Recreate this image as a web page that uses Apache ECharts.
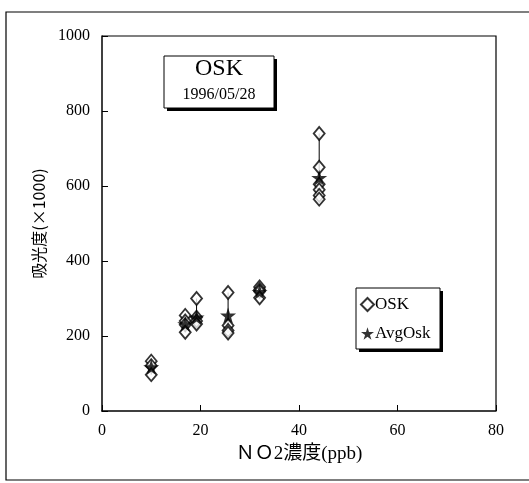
<!DOCTYPE html>
<html>
<head>
<meta charset="utf-8">
<script src="https://cdn.jsdelivr.net/npm/echarts@6/dist/echarts.min.js"></script>
<style>
  html, body { margin: 0; padding: 0; background: #fff; }
  #chart { width: 529px; height: 483px; }
</style>
</head>
<body>
<div id="chart"></div>
<script>
  // NO2 concentration (ppb) of each measurement group
  const no2Levels = [10, 16.9, 19.2, 25.6, 32, 44.1];
  // absorbance (x1000) readings, one list per group
  const oskReadings = [
    [133, 121, 97],
    [255, 240, 230, 210],
    [300, 250, 240, 232],
    [316, 228, 215, 208],
    [331, 324, 319, 302],
    [740, 650, 605, 590, 575, 565]
  ];
  const avgOsk = [117, 232, 250, 255, 318, 622];
  const xTicks = [0, 20, 40, 60, 80];
  const yTicks = [0, 200, 400, 600, 800, 1000];

  const serif = '"Liberation Serif", "DejaVu Serif", serif';
  const starPath = 'path://M50,0 L61,35 L98,35 L68,57 L79,91 L50,70 L21,91 L32,57 L2,35 L39,35 Z';

  let oskPoints = [];
  let rangeLine = [];
  no2Levels.forEach((x, i) => {
    oskReadings[i].forEach(v => oskPoints.push([x, v]));
    rangeLine.push([x, Math.min(...oskReadings[i])]);
    rangeLine.push([x, Math.max(...oskReadings[i])]);
    rangeLine.push('-');
  });
  let avgPoints = no2Levels.map((x, i) => [x, avgOsk[i]]);

  // box with a hard drop shadow (black rect offset behind a white one)
  function shadowBox(x, y, w, h) {
    return [
      { type: 'rect', z: 10, shape: { x: x + 3, y: y + 3, width: w, height: h }, style: { fill: '#000' } },
      { type: 'rect', z: 11, shape: { x: x, y: y, width: w, height: h }, style: { fill: '#fff', stroke: '#000', lineWidth: 1 } }
    ];
  }

  const chart = echarts.init(document.getElementById('chart'));
  chart.setOption({
    animation: false,
    backgroundColor: '#fff',
    grid: { left: 102, top: 36, width: 394, height: 375 },
    xAxis: {
      type: 'value',
      min: xTicks[0], max: xTicks[xTicks.length - 1], interval: 20,
      name: 'ＮＯ2濃度(ppb)',
      nameLocation: 'middle',
      nameGap: 34,
      nameTextStyle: { fontFamily: '"Liberation Serif", "Noto Sans CJK JP", serif', fontSize: 19, color: '#000' },
      axisLine: { lineStyle: { color: '#000', width: 1.5 } },
      axisTick: { inside: true, length: 6, lineStyle: { color: '#000' } },
      axisLabel: { fontFamily: serif, fontSize: 16, color: '#000', margin: 12 },
      splitLine: { show: false }
    },
    yAxis: {
      type: 'value',
      min: yTicks[0], max: yTicks[yTicks.length - 1], interval: 200,
      name: '吸光度(×1000)',
      nameLocation: 'middle',
      nameGap: 52,
      nameTextStyle: { fontFamily: '"Noto Sans CJK JP", serif', fontSize: 16, color: '#000' },
      axisLine: { lineStyle: { color: '#000', width: 1.5 } },
      axisTick: { inside: true, length: 6, lineStyle: { color: '#000' } },
      axisLabel: { fontFamily: serif, fontSize: 16, color: '#000', margin: 12, formatter: v => String(v) },
      splitLine: { show: false }
    },
    legend: {
      orient: 'vertical',
      left: 360, top: 296,
      padding: 0,
      itemGap: 12,
      itemWidth: 13, itemHeight: 13,
      z: 20,
      textStyle: { fontFamily: serif, fontSize: 17, color: '#000', padding: [0, 0, 0, -4] },
      data: [
        { name: 'OSK', icon: 'diamond' },
        { name: 'AvgOsk', icon: starPath }
      ]
    },
    graphic: [
      {
        type: 'rect', z: -10,
        shape: { x: 6, y: 12, width: 530, height: 468 },
        style: { fill: 'none', stroke: '#000', lineWidth: 1.2 }
      },
      // top and right frame lines of the plot
      {
        type: 'polyline', z: 5,
        shape: { points: [[102, 36], [496, 36], [496, 411]] },
        style: { stroke: '#000', lineWidth: 1.2, fill: 'none' }
      },
      ...shadowBox(164, 56, 110, 52),
      {
        type: 'text', z: 12, x: 219, y: 57,
        style: { text: 'OSK', font: '24px "Liberation Serif", serif', fill: '#000', align: 'center', verticalAlign: 'top' }
      },
      {
        type: 'text', z: 12, x: 219, y: 87,
        style: { text: '1996/05/28', font: '16px "Liberation Serif", serif', fill: '#000', align: 'center', verticalAlign: 'top' }
      },
      ...shadowBox(356, 288, 84, 61)
    ],
    series: [
      {
        name: 'range',
        type: 'line',
        data: rangeLine,
        symbol: 'none',
        connectNulls: false,
        lineStyle: { color: '#000', width: 1 },
        silent: true,
        z: 1
      },
      {
        name: 'OSK',
        type: 'scatter',
        data: oskPoints,
        symbol: 'diamond',
        symbolSize: [11, 13],
        itemStyle: { color: '#fff', borderColor: '#000', borderWidth: 1.8 },
        z: 2
      },
      {
        name: 'AvgOsk',
        type: 'scatter',
        data: avgPoints,
        symbol: starPath,
        symbolSize: 16,
        itemStyle: { color: '#000' },
        z: 3
      }
    ]
  });
</script>
</body>
</html>
